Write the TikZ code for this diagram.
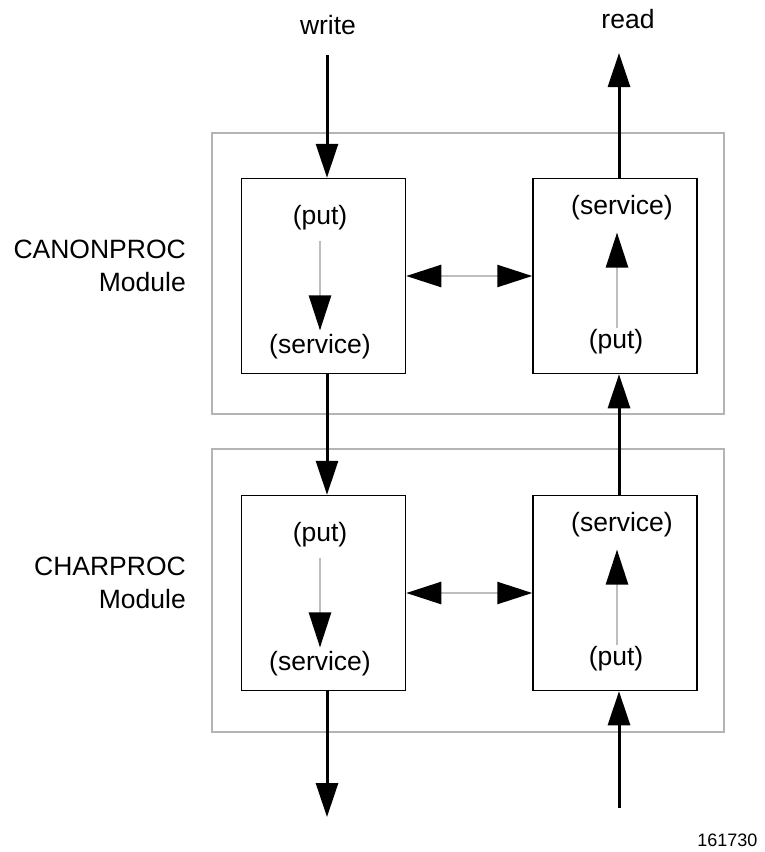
\documentclass[tikz,border=0pt]{standalone}
\usepackage{fontspec}
\setmainfont{Liberation Sans}
\usetikzlibrary{arrows.meta, positioning, calc}
\definecolor{modgray}{RGB}{180,180,180}
\definecolor{callgray}{RGB}{190,190,190}

\tikzset{
  modbox/.style={draw=modgray, line width=2.5pt, minimum width=512pt, inner sep=0pt},
  procbox/.style={draw, line width=1.5pt, minimum width=164pt, minimum height=195pt, inner sep=0pt},
  lbl/.style={font=\fontsize{26.5}{33}\selectfont, inner sep=4pt},
  flow/.style={line width=3pt, -{Triangle[length=34pt,width=22pt]}},
  call/.style={callgray, line width=2.5pt, -{Triangle[length=35pt,width=22pt,color=black]}},
  peer/.style={callgray, line width=2.5pt, {Triangle[length=35pt,width=22pt,color=black]}-{Triangle[length=35pt,width=22pt,color=black]}}
}

\begin{document}
\begin{tikzpicture}[x=1pt, y=-1pt]
\useasboundingbox (0,0) rectangle (764,852);

% CANONPROC module
\node[modbox, minimum height=281pt] (canon) at (468,273.5) {};
\node[procbox] (canonL) at (323.5,276) {};
\node[procbox] (canonR) at (615,276) {};
\node[lbl] (canonLput) at (320,218) {(put)};
\node[lbl] (canonLsrv) at (320,347) {(service)};
\node[lbl] (canonRsrv) at (622,208) {(service)};
\node[lbl] (canonRput) at (616,342) {(put)};
\node[lbl, align=right, anchor=east] (canonname) at (190,266) {CANONPROC\\Module};
\draw[call, shorten <=6pt] (canonLput) -- (canonLsrv);
\draw[call, shorten <=-3pt, shorten >=8pt] ([xshift=1pt]canonRput.north) -- ([xshift=1pt]canonRput.north |- canonRsrv.south);
\draw[peer] (canonL) -- (canonR);

% CHARPROC module
\node[modbox, minimum height=283pt] (char) at (468,590.5) {};
\node[procbox] (charL) at (323.5,593) {};
\node[procbox] (charR) at (615,593) {};
\node[lbl] (charLput) at (320,535) {(put)};
\node[lbl] (charLsrv) at (320,664) {(service)};
\node[lbl] (charRsrv) at (622,525) {(service)};
\node[lbl] (charRput) at (616,659) {(put)};
\node[lbl, align=right, anchor=east] (charname) at (190,583) {CHARPROC\\Module};
\draw[call, shorten <=6pt] (charLput) -- (charLsrv);
\draw[call, shorten <=-3pt, shorten >=8pt] ([xshift=1pt]charRput.north) -- ([xshift=1pt]charRput.north |- charRsrv.south);
\draw[peer] (charL) -- (charR);

% write path
\node[lbl] (write) at (328,25) {write};
\coordinate (writeS) at (327,55);
\coordinate (outL) at (327,817);
\draw[flow] (writeS) -- ([xshift=3.5pt]canonL.north);
\draw[flow] ([xshift=3.5pt]canonL.south) -- ([xshift=3.5pt]charL.north);
\draw[flow] ([xshift=3.5pt]charL.south) -- (outL);

% read path
\node[lbl] (read) at (628,19) {read};
\coordinate (readE) at (619,53);
\coordinate (inR) at (619,808);
\draw[flow] (inR) -- ([xshift=4pt]charR.south);
\draw[flow] ([xshift=4pt]charR.north) -- ([xshift=4pt]canonR.south);
\draw[flow] ([xshift=4pt]canonR.north) -- (readE);

\node[font=\fontsize{18}{22}\selectfont, anchor=east] (figno) at (761,840) {161730};
\end{tikzpicture}
\end{document}
